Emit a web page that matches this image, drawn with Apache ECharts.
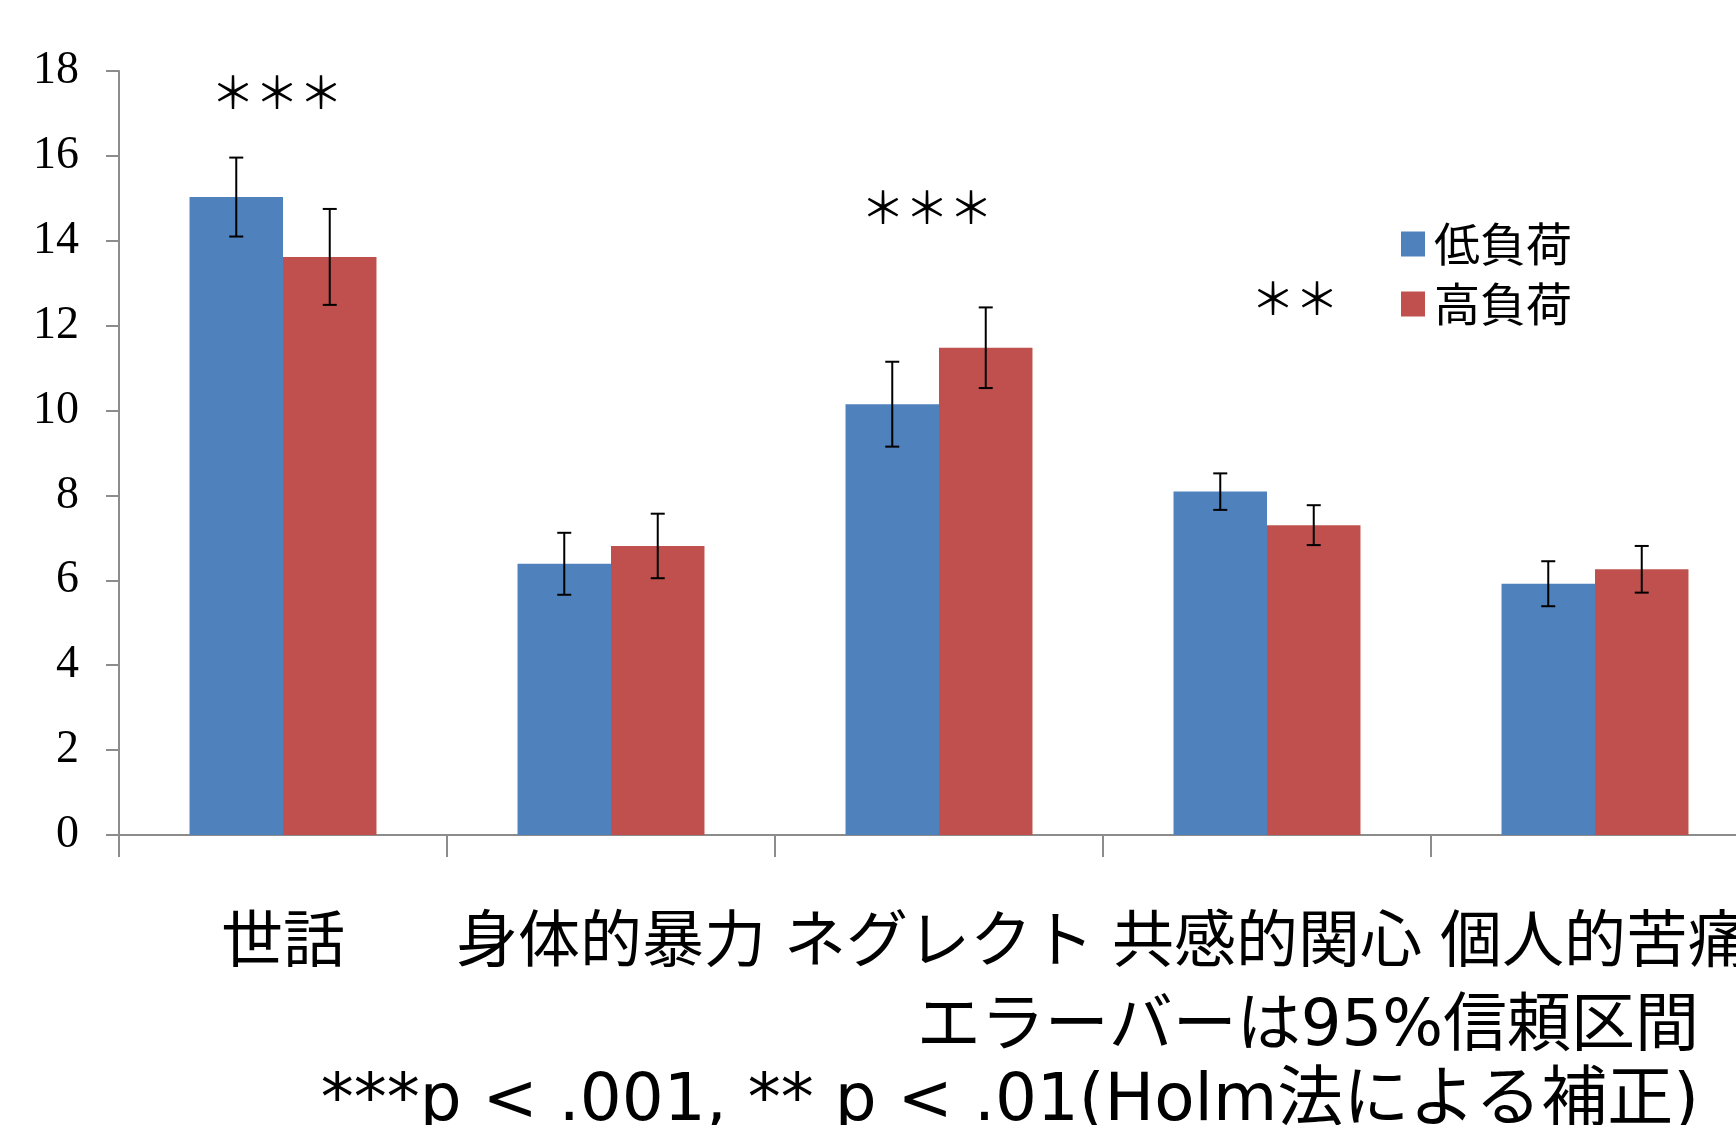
<!DOCTYPE html>
<html>
<head>
<meta charset="utf-8">
<script src="https://cdn.jsdelivr.net/npm/echarts@6/dist/echarts.min.js"></script>
<style>
  html, body { margin: 0; padding: 0; background: #fff; }
  #main { width: 1736px; height: 1125px; }
</style>
</head>
<body>
<div id="main"></div>
<script>
// 値は図から読み取り
var categories = ['世話', '身体的暴力', 'ネグレクト', '共感的関心', '個人的苦痛'];
var lowMeans  = [15.03, 6.39, 10.15, 8.09, 5.92];
var lowCI     = [0.93, 0.73, 1.00, 0.43, 0.53];
var highMeans = [13.62, 6.81, 11.48, 7.30, 6.26];
var highCI    = [1.13, 0.76, 0.95, 0.47, 0.55];
var sigMarks  = ['＊＊＊', '', '＊＊＊', '＊＊', ''];
var sigY      = [17.5, null, 14.8, 12.65, null];
var sigShift  = [-6, 0, -12, 28, 0];

var BLUE = '#4F81BD';
var RED = '#C0504D';
var CJK = '"Noto Sans CJK JP", "Noto Sans", sans-serif';
var NOTE = '"DejaVu Sans", "Noto Sans CJK JP", sans-serif';
var BAR_W = 0.285;

function errData(means, ci) {
  return means.map(function (m, i) { return [i, m - ci[i], m + ci[i]]; });
}

function errRender(sign) {
  return function (params, api) {
    var i = api.value(0);
    var lo = api.coord([i, api.value(1)]);
    var hi = api.coord([i, api.value(2)]);
    var bw = api.size([1, 0])[0] * BAR_W;
    var x = lo[0] + sign * bw / 2;
    var cap = 7;
    var st = { stroke: '#000', lineWidth: 2 };
    return {
      type: 'group',
      children: [
        { type: 'line', shape: { x1: x, y1: lo[1], x2: x, y2: hi[1] }, style: st },
        { type: 'line', shape: { x1: x - cap, y1: lo[1], x2: x + cap, y2: lo[1] }, style: st },
        { type: 'line', shape: { x1: x - cap, y1: hi[1], x2: x + cap, y2: hi[1] }, style: st }
      ]
    };
  };
}

var chart = echarts.init(document.getElementById('main'));

var option = {
  animation: false,
  grid: { left: 119, right: -23, top: 71, bottom: 290, outerBoundsMode: 'none' },
  legend: {
    data: ['低負荷', '高負荷'],
    orient: 'vertical',
    left: 1396,
    top: 216,
    icon: 'rect',
    itemWidth: 24,
    itemHeight: 25,
    itemGap: 14,
    textStyle: { fontFamily: CJK, fontSize: 46, color: '#000', padding: [0, 0, 0, 4] }
  },
  xAxis: {
    type: 'category',
    data: categories,
    axisLine: { show: true, lineStyle: { color: '#8c8c8c', width: 2 } },
    axisTick: { show: true, length: 22, lineStyle: { color: '#8c8c8c', width: 2 } },
    axisLabel: { interval: 0, margin: 72, color: '#000', fontFamily: CJK, fontSize: 62 }
  },
  yAxis: {
    type: 'value',
    min: 0,
    max: 18,
    interval: 2,
    splitLine: { show: false },
    axisLine: { show: true, lineStyle: { color: '#8c8c8c', width: 2 } },
    axisTick: { show: true, length: 13, lineStyle: { color: '#8c8c8c', width: 2 } },
    axisLabel: { margin: 40, color: '#000', fontFamily: '"Liberation Serif", serif', fontSize: 46 }
  },
  series: [
    {
      name: '低負荷',
      type: 'bar',
      data: lowMeans,
      barWidth: (BAR_W * 100) + '%',
      barGap: '0%',
      itemStyle: { color: BLUE }
    },
    {
      name: '高負荷',
      type: 'bar',
      data: highMeans,
      barWidth: (BAR_W * 100) + '%',
      itemStyle: { color: RED }
    },
    {
      type: 'custom',
      name: 'err-low',
      data: errData(lowMeans, lowCI),
      encode: { x: 0, y: [1, 2] },
      renderItem: errRender(-1),
      z: 10
    },
    {
      type: 'custom',
      name: 'err-high',
      data: errData(highMeans, highCI),
      encode: { x: 0, y: [1, 2] },
      renderItem: errRender(1),
      z: 10
    }
  ]
};

chart.setOption(option);

// 有意差の記号と注記
var texts = [];
sigMarks.forEach(function (s, i) {
  if (!s) return;
  var p = chart.convertToPixel({ gridIndex: 0 }, [i, sigY[i]]);
  texts.push({
    type: 'text',
    x: p[0] + sigShift[i],
    y: p[1],
    style: { text: s, fontFamily: CJK, fontSize: 44, fill: '#000', align: 'center', verticalAlign: 'middle' }
  });
});
texts.push({
  type: 'text', x: 1699, y: 1028,
  style: { text: 'エラーバーは95%信頼区間', fontFamily: NOTE, fontSize: 64, fill: '#000', align: 'right', verticalAlign: 'middle' }
});
texts.push({
  type: 'text', x: 1699, y: 1103,
  style: { text: '***p < .001, ** p < .01(Holm法による補正)', fontFamily: NOTE, fontSize: 66, fill: '#000', align: 'right', verticalAlign: 'middle' }
});
chart.setOption({ graphic: texts });
</script>
</body>
</html>
